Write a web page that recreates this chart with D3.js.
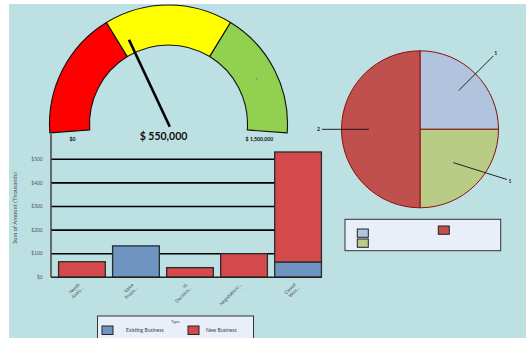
<!DOCTYPE html>
<html>
<head>
<meta charset="utf-8">
<script src="https://cdn.jsdelivr.net/npm/d3@7"></script>
<style>
  html, body { margin: 0; padding: 0; background: #ffffff; }
  svg { display: block; font-family: Lato, "Open Sans", sans-serif; }
</style>
</head>
<body>
<svg id="chart" width="526" height="338"></svg>
<script>
// ---- Gauge ----
const gaugeBreaks = [0, 500000, 1000000, 1500000];
const gaugeColors = ["#ff0000", "#ffff00", "#92d050"];
const gaugeValue = 550000;
const gaugeMinLabel = "$0";
const gaugeMaxLabel = "$ 1,500,000";
const gaugeValueLabel = "$ 550,000";

// ---- Stacked bars ----
const stageNames = ["Needs Analysis", "Value Proposition", "Id. Decision Makers", "Negotiation/Review", "Closed Won"];
const stageTickLabels = [["Needs", "Analy..."], ["Value", "Propo..."], ["Id.", "Decision..."], ["Negotiation/...", "."], ["Closed", "Won..."]];
const existingBusiness = [0, 133, 0, 0, 65];
const newBusiness = [66, 0, 41, 100, 466];
const seriesNames = ["Existing Business", "New Business"];
const seriesColors = ["#7094c1", "#d4494c"];
const yTicks = [0, 100, 200, 300, 400, 500];

// ---- Pie ----
const pieValues = [1, 1, 2];
const pieColors = ["#b0c4de", "#b8cc86", "#c0504d"];

const svg = d3.select("#chart");

// panel background
svg.append("rect").attr("x", 9).attr("y", 4).attr("width", 517).attr("height", 334).attr("fill", "#bde0e3");

// ================= Gauge =================
const gCx = 168.5, gCy = 124, gOuter = 119, gInner = 79;
const sweep = 94.3 * Math.PI / 180;
const gaugeScale = d3.scaleLinear().domain([gaugeBreaks[0], gaugeBreaks[gaugeBreaks.length - 1]]).range([-sweep, sweep]);
const gauge = svg.append("g").attr("transform", `translate(${gCx},${gCy})`);
const bandArc = d3.arc().innerRadius(gInner).outerRadius(gOuter);
const bands = gaugeColors.map((c, i) => ({ start: gaugeScale(gaugeBreaks[i]), end: gaugeScale(gaugeBreaks[i + 1]), color: c }));
gauge.selectAll("path.band").data(bands).join("path")
  .attr("class", "band")
  .attr("d", d => bandArc({ startAngle: d.start, endAngle: d.end }))
  .attr("fill", d => d.color)
  .attr("stroke", "#111").attr("stroke-width", 1.1).attr("stroke-linejoin", "round");

// band label on the last band
const lastBand = bands[bands.length - 1];
const lbl = bandArc.centroid({ startAngle: lastBand.start, endAngle: lastBand.end });
gauge.append("text")
  .attr("transform", `translate(${lbl[0]},${lbl[1]}) rotate(${(lastBand.start + lastBand.end) / 2 * 180 / Math.PI - 90})`)
  .attr("text-anchor", "middle").attr("dy", "0.35em")
  .attr("font-size", 3.5).attr("fill", "#444").text("1");

// needle
const na = gaugeScale(gaugeValue);
gauge.append("line")
  .attr("x1", -3 * Math.sin(na)).attr("y1", 3 * Math.cos(na))
  .attr("x2", 93 * Math.sin(na)).attr("y2", -93 * Math.cos(na))
  .attr("stroke", "#000").attr("stroke-width", 2.6);

gauge.append("text").attr("x", -5).attr("y", 15.5).attr("text-anchor", "middle")
  .attr("font-size", 10.5).attr("font-weight", "bold").attr("fill", "#111").text(gaugeValueLabel);
gauge.append("text").attr("x", -96).attr("y", 16.5).attr("text-anchor", "middle")
  .attr("font-size", 5.2).attr("font-weight", "bold").attr("fill", "#111").text(gaugeMinLabel);
gauge.append("text").attr("x", 91).attr("y", 16.5).attr("text-anchor", "middle")
  .attr("font-size", 5.2).attr("font-weight", "bold").attr("fill", "#111").text(gaugeMaxLabel);

// ================= Bar chart =================
const plotLeft = 51, plotBottom = 277.3;
const x = d3.scaleBand().domain(stageNames).range([plotLeft, 329]).paddingInner(0.135).paddingOuter(0.14);
const y = d3.scaleLinear().domain([0, 600]).range([plotBottom, 135.7]);
const barEnd = x(stageNames[stageNames.length - 1]) + x.bandwidth();

const bars = svg.append("g");
// gridlines
bars.selectAll("line.grid").data(yTicks.slice(1)).join("line")
  .attr("x1", plotLeft).attr("x2", barEnd)
  .attr("y1", d => y(d)).attr("y2", d => y(d))
  .attr("stroke", "#000").attr("stroke-width", 1.6);

const rows = stageNames.map((s, i) => ({ stage: s, [seriesNames[0]]: existingBusiness[i], [seriesNames[1]]: newBusiness[i] }));
const stacked = d3.stack().keys(seriesNames)(rows);
bars.selectAll("g.series").data(stacked).join("g")
  .attr("fill", (d, i) => seriesColors[i])
  .selectAll("rect").data(d => d.filter(p => p[1] - p[0] > 0)).join("rect")
  .attr("x", d => x(d.data.stage))
  .attr("width", x.bandwidth())
  .attr("y", d => y(d[1]))
  .attr("height", d => y(d[0]) - y(d[1]))
  .attr("stroke", "#2b2b2b").attr("stroke-width", 1.3);

// axes lines
bars.append("line").attr("x1", plotLeft).attr("x2", plotLeft).attr("y1", 134).attr("y2", plotBottom)
  .attr("stroke", "#444").attr("stroke-width", 1.5);
bars.append("line").attr("x1", plotLeft).attr("x2", barEnd).attr("y1", plotBottom).attr("y2", plotBottom)
  .attr("stroke", "#222").attr("stroke-width", 1.5);

// y tick labels
bars.selectAll("text.ytick").data(yTicks).join("text")
  .attr("x", 42.5).attr("y", d => y(d)).attr("dy", "0.35em")
  .attr("text-anchor", "end").attr("font-size", 4.8).attr("fill", "#555")
  .text(d => "$" + d);

// y axis title
bars.append("text").attr("transform", "translate(16.5,208) rotate(-90)")
  .attr("text-anchor", "middle").attr("font-size", 5.8).attr("fill", "#555")
  .text("Sum of Amount (Thousands)");

// x tick labels
const xl = bars.selectAll("text.xtick").data(stageNames).join("text")
  .attr("transform", d => `translate(${x(d) + x.bandwidth() / 2 - 2},${285}) rotate(-45)`)
  .attr("text-anchor", "end").attr("font-size", 4.6).attr("fill", "#4a4a4a");
xl.selectAll("tspan").data((d, i) => stageTickLabels[i]).join("tspan")
  .attr("x", 0).attr("dy", (d, j) => j === 0 ? 0 : "1.1em").text(d => d);

// legend
const lg = svg.append("g");
lg.append("rect").attr("x", 97.5).attr("y", 316).attr("width", 156).attr("height", 30)
  .attr("fill", "#e9eff8").attr("stroke", "#333").attr("stroke-width", 1);
lg.append("text").attr("x", 175.5).attr("y", 322.5).attr("text-anchor", "middle")
  .attr("font-size", 4.2).attr("fill", "#444").text("Type");
const lgX = [102, 188];
const lgItems = lg.selectAll("g.item").data(seriesNames).join("g")
  .attr("transform", (d, i) => `translate(${lgX[i]},326)`);
lgItems.append("rect").attr("width", 11).attr("height", 8.5)
  .attr("fill", (d, i) => seriesColors[i]).attr("stroke", "#222").attr("stroke-width", 1);
lgItems.append("text").attr("x", (d, i) => i === 0 ? 24 : 18).attr("y", 4.5).attr("dy", "0.35em")
  .attr("font-size", 5).attr("fill", "#444").text(d => d);

// ================= Pie =================
const pCx = 420, pCy = 129.3, pR = 78.5;
const pie = d3.pie().sort(null).value(d => d);
const arcs = pie(pieValues);
const pg = svg.append("g").attr("transform", `translate(${pCx},${pCy})`);
pg.selectAll("path").data(arcs).join("path")
  .attr("d", d3.arc().innerRadius(0).outerRadius(pR))
  .attr("fill", (d, i) => pieColors[i])
  .attr("stroke", "#8b0f0f").attr("stroke-width", 1);

// leader lines and value labels
const labelTilt = [0, -15, 0];
const leaderInner = [0.7, 0.6, 0.65];
const leaderOuter = [1.32, 1.28, 1.25];
const pt = (a, r) => [r * Math.sin(a), -r * Math.cos(a)];
arcs.forEach((d, i) => {
  const mid = (d.startAngle + d.endAngle) / 2;
  const a0 = pt(mid, pR * leaderInner[i]);
  const a1 = pt(mid + labelTilt[i] * Math.PI / 180, pR * leaderOuter[i]);
  pg.append("line").attr("x1", a0[0]).attr("y1", a0[1]).attr("x2", a1[0]).attr("y2", a1[1])
    .attr("stroke", "#111").attr("stroke-width", 0.9);
  const t = pt(mid + labelTilt[i] * Math.PI / 180, pR * leaderOuter[i] + 3.5);
  pg.append("text").attr("x", t[0]).attr("y", t[1]).attr("dy", "0.35em").attr("text-anchor", "middle")
    .attr("font-size", 5.2).attr("font-weight", "bold").attr("fill", "#222").text(d.data);
});

// pie legend
const plg = svg.append("g");
plg.append("rect").attr("x", 345).attr("y", 219.3).attr("width", 155.7).attr("height", 31.4)
  .attr("fill", "#e9eff8").attr("stroke", "#333").attr("stroke-width", 1);
const plgPos = [[357.3, 229], [357.3, 239], [438.3, 226]];
plg.selectAll("rect.sw").data(pieValues).join("rect")
  .attr("x", (d, i) => plgPos[i][0]).attr("y", (d, i) => plgPos[i][1])
  .attr("width", 11).attr("height", 8.3)
  .attr("fill", (d, i) => pieColors[i]).attr("stroke", "#222").attr("stroke-width", 1);
</script>
</body>
</html>
